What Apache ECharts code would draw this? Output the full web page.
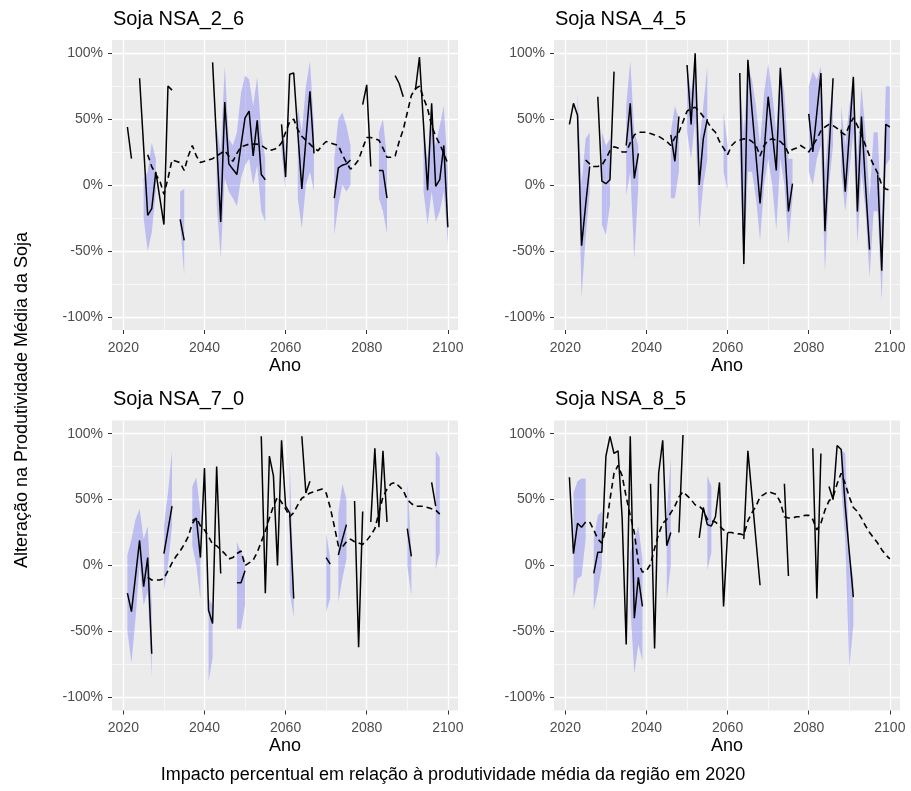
<!DOCTYPE html>
<html>
<head>
<meta charset="utf-8">
<script src="https://cdn.jsdelivr.net/npm/echarts@6/dist/echarts.min.js"></script>
<style>html,body{margin:0;padding:0;background:#fff;}#c{width:911px;height:791px;}</style>
</head>
<body>
<div id="c"></div>
<script>
const years = [2021,2022,2023,2024,2025,2026,2027,2028,2029,2030,
2031,2032,2033,2034,2035,2036,2037,2038,2039,2040,
2041,2042,2043,2044,2045,2046,2047,2048,2049,2050,
2051,2052,2053,2054,2055,2056,2057,2058,2059,2060,
2061,2062,2063,2064,2065,2066,2067,2068,2069,2070,
2071,2072,2073,2074,2075,2076,2077,2078,2079,2080,
2081,2082,2083,2084,2085,2086,2087,2088,2089,2090,
2091,2092,2093,2094,2095,2096,2097,2098,2099,2100];

const panelTitles = ['Soja NSA_2_6','Soja NSA_4_5','Soja NSA_7_0','Soja NSA_8_5'];
const xTicks = [2020,2040,2060,2080,2100];
const xMinor = [2030,2050,2070,2090];
const yTicks = [-100,-50,0,50,100];
const yMinor = [-75,-25,25,75];

// ---- Soja NSA_2_6
const s1 = [44,20,null,81,29,-23,-18,10,-10,-30,
75,72,null,-26,-42,null,null,null,null,null,
null,93,32,-28,63,16,12,8,30,51,
56,22,49,8,4,null,null,null,46,6,
84,85,40,-3,34,71,24,null,null,null,
null,-10,13,15,16,19,null,null,61,76,
14,null,11,11,-10,null,83,77,67,null,
null,72,97,46,-4,62,-1,4,30,-32];
const t1 = [null,null,null,null,null,23,14,8,3,-7,
5,19,18,17,11,22,30,22,17,18,
19,20,22,24,26,22,18,24,29,30,
31,31,31,30,28,26,27,28,32,40,
48,50,42,37,34,31,28,26,30,33,
32,31,30,23,17,12,15,19,28,36,
36,35,34,28,21,21,22,33,42,55,
68,73,75,66,58,45,37,31,24,16];
const lo1 = [null,null,null,null,-25,-50,-36,-5,null,null,
null,null,null,-30,-68,null,null,null,null,null,
null,null,-15,-55,5,-5,-10,-16,5,15,
20,0,15,-20,-28,null,null,null,25,-5,
null,null,-10,-33,0,10,-5,null,null,null,
null,-38,-15,0,-5,0,null,null,null,null,
null,null,-10,-20,-37,null,null,null,null,null,
null,null,null,-5,-30,-5,-28,-20,-5,-45];
const hi1 = [null,null,null,null,5,10,32,20,null,null,
null,null,null,-5,-3,null,null,null,null,null,
null,null,45,25,90,35,30,40,70,83,
80,60,82,40,20,null,null,null,46,30,
null,null,60,40,75,94,45,null,null,null,
null,20,50,55,45,30,null,null,null,null,
null,null,40,50,20,null,null,null,null,null,
null,null,null,40,20,55,30,45,60,10];

// ---- Soja NSA_4_5
const s2 = [46,62,53,-46,-15,14,null,67,3,1,
4,86,null,null,30,62,5,24,null,null,
null,null,null,null,null,38,18,52,null,91,
46,100,0,35,50,null,null,null,null,null,
null,null,85,-60,95,57,22,-14,25,67,
40,11,89,35,-20,1,null,null,null,54,
25,55,85,-35,25,81,null,42,-5,38,
82,-20,52,0,-49,null,8,-65,46,44];
const t2 = [null,null,null,null,19,16,14,14,15,20,
26,29,28,25,25,32,38,40,40,40,
39,38,37,35,33,30,36,40,48,56,
58,59,56,52,48,43,40,33,28,23,
30,33,34,35,35,33,30,22,30,34,
35,34,33,30,24,27,28,30,28,25,
30,35,41,44,46,45,43,40,38,45,
51,45,38,30,22,15,9,0,-3,-4];
const lo2 = [null,null,40,-85,-40,-5,null,null,-30,-38,
-15,null,null,null,-8,10,-56,0,null,null,
null,null,null,null,null,-10,-10,10,null,40,
20,50,-33,0,20,null,null,null,10,-5,
null,null,20,-65,10,10,-10,-42,0,20,
0,-34,20,0,-45,-10,null,null,null,10,
0,20,30,-66,0,30,null,10,-20,10,
40,-45,10,-20,-70,-20,-20,-88,15,20];
const hi2 = [null,null,70,0,35,40,null,null,40,30,
35,null,null,null,60,94,40,30,null,null,
null,null,null,null,null,40,60,50,null,91,
70,95,30,60,90,null,null,null,55,30,
null,null,80,40,90,80,60,30,70,92,
70,40,90,70,20,20,null,null,null,75,
86,80,90,10,50,80,null,60,30,60,
84,20,75,40,-10,40,40,-30,75,75];

// ---- Soja NSA_7_0
const s3 = [-21,-35,-8,19,-16,6,-67,null,null,9,
27,45,null,null,null,null,34,36,6,74,
-34,-44,75,-6,null,null,null,-13,-13,-4,
null,null,null,98,-21,83,68,0,95,45,
40,-25,null,98,55,64,null,null,null,6,
1,null,8,20,31,null,49,-62,41,null,
33,89,29,87,33,null,null,null,null,28,
7,null,null,null,null,63,45,null,null,null];
const t3 = [null,null,null,null,null,-9,-11,-11,-11,-10,
-4,2,7,11,16,22,32,36,30,27,
22,16,15,12,9,5,6,9,11,0,
2,4,10,18,26,36,45,52,48,43,
37,40,46,51,53,55,56,57,58,55,
44,30,15,14,18,20,18,17,16,19,
23,28,40,52,58,62,63,60,57,50,
47,45,45,45,44,43,42,39,null,null];
const lo3 = [-50,-74,-40,0,-30,-20,-85,null,null,-19,
0,30,null,null,null,null,15,0,-26,null,
-88,-70,null,null,null,null,null,-48,-48,-30,
null,null,null,null,null,null,null,null,null,null,
-20,-39,null,null,null,null,null,null,null,-35,
-25,null,-28,-10,5,null,null,null,null,null,
null,null,null,null,null,null,null,null,null,0,
-23,null,null,null,null,null,-3,10,null,null];
const hi3 = [8,20,35,43,20,30,-30,null,null,30,
55,87,null,null,null,null,60,67,40,null,
-25,-30,null,null,null,null,null,18,10,5,
null,null,null,null,null,null,null,null,null,null,
79,-15,null,null,null,null,null,null,null,25,
5,null,40,62,50,null,null,null,null,null,
null,null,null,null,null,null,null,null,null,66,
10,null,null,null,null,null,87,82,null,null];

// ---- Soja NSA_8_5
const s4 = [67,9,32,29,33,null,-6,10,10,83,
98,85,87,36,-60,98,-40,-9,-31,null,
62,-63,70,95,15,25,null,25,99,null,
null,null,21,44,31,30,37,63,-31,25,
null,null,null,20,87,53,19,-15,null,null,
null,null,null,62,-8,null,null,null,null,null,
89,-25,85,null,60,50,91,88,45,10,
-24,null,null,null,null,null,null,null,null,null];
const t4 = [null,null,null,null,null,33,27,20,17,28,
50,70,76,68,52,38,25,2,-5,-4,
1,13,24,32,35,40,45,52,56,53,
50,46,45,42,35,34,33,30,27,25,
25,24,24,23,34,40,45,52,54,56,
55,54,48,37,36,36,37,37,38,38,
35,27,32,42,49,52,62,70,62,52,
44,41,36,30,25,21,17,12,8,5];
const lo4 = [null,-25,-10,-8,20,null,-34,-20,0,null,
null,null,null,null,null,-30,-82,-60,-72,null,
null,null,null,null,-26,0,null,null,null,null,
null,null,null,null,-4,10,null,null,null,null,
null,null,null,null,null,null,null,null,null,null,
null,null,null,null,null,null,null,null,null,null,
null,null,null,null,null,null,null,60,20,-78,
-45,null,null,null,null,null,null,null,null,null];
const hi4 = [null,55,64,66,66,null,20,38,41,null,
null,null,null,null,null,10,20,30,5,null,
null,null,null,null,40,82,null,null,null,null,
null,null,null,null,68,60,null,null,null,null,
null,null,null,null,null,null,null,null,null,null,
null,null,null,null,null,null,null,null,null,null,
null,null,null,null,null,null,null,88,85,10,
-10,null,null,null,null,null,null,null,null,null];

const panels = [
  {solid:s1, trend:t1, lo:lo1, hi:hi1},
  {solid:s2, trend:t2, lo:lo2, hi:hi2},
  {solid:s3, trend:t3, lo:lo3, hi:hi3},
  {solid:s4, trend:t4, lo:lo4, hi:hi4}
];

const FONT = "'Liberation Sans', Arial, sans-serif";
const gridPos = [
  {left:112, top:40}, {left:554, top:40},
  {left:112, top:420.5}, {left:554, top:420.5}
];
const W = 346, H = 290;
const XMIN = 2017.2, XMAX = 2102.5, YMIN = -110, YMAX = 110;

const grids = gridPos.map(g => ({left:g.left, top:g.top, width:W, height:H,
  show:true, backgroundColor:'#EBEBEB', borderWidth:0, containLabel:false}));

const xAxes = [], yAxes = [];
for (let p = 0; p < 4; p++) {
  xAxes.push({type:'value', gridIndex:p, min:XMIN, max:XMAX, position:'bottom',
    name:'Ano', nameLocation:'middle', nameGap:27,
    nameTextStyle:{fontSize:18, color:'#000', fontFamily:FONT},
    axisLine:{show:false, onZero:false},
    axisTick:{show:true, length:4, lineStyle:{color:'#333333', width:1}, customValues:xTicks},
    axisLabel:{customValues:xTicks, margin:11, fontSize:14, color:'#4D4D4D', fontFamily:FONT,
      formatter: v => String(Math.round(v))},
    splitLine:{show:true, lineStyle:{color:'#FFFFFF', width:1.3}}
  });
  yAxes.push({type:'value', gridIndex:p, min:YMIN, max:YMAX, position:'left',
    axisLine:{show:false, onZero:false},
    axisTick:{show:true, length:4, lineStyle:{color:'#333333', width:1}, customValues:yTicks},
    axisLabel:{customValues:yTicks, margin:9, fontSize:14, color:'#4D4D4D', fontFamily:FONT,
      formatter: v => Math.round(v) + '%'},
    splitLine:{show:true, lineStyle:{color:'#FFFFFF', width:1.3}}
  });
}
for (let p = 0; p < 4; p++) {
  xAxes.push({type:'value', gridIndex:p, min:XMIN, max:XMAX, position:'top',
    axisLine:{show:false, onZero:false}, axisTick:{show:false, customValues:xMinor},
    axisLabel:{show:false}, splitLine:{show:true, lineStyle:{color:'#FFFFFF', width:0.6}}});
  yAxes.push({type:'value', gridIndex:p, min:YMIN, max:YMAX, position:'right',
    axisLine:{show:false, onZero:false}, axisTick:{show:false, customValues:yMinor},
    axisLabel:{show:false}, splitLine:{show:true, lineStyle:{color:'#FFFFFF', width:0.6}}});
}

// contiguous runs (>= 2 years) where both band limits exist
function bandRuns(lo, hi) {
  const runs = [];
  let start = -1;
  for (let k = 0; k <= years.length; k++) {
    const ok = k < years.length && lo[k] != null && hi[k] != null;
    if (ok && start < 0) start = k;
    if (!ok && start >= 0) { if (k - 1 > start) runs.push([start, k - 1]); start = -1; }
  }
  return runs;
}

const series = [];
panels.forEach((d, p) => {
  const runs = bandRuns(d.lo, d.hi);
  series.push({type:'custom', xAxisIndex:p, yAxisIndex:p, silent:true, z:2,
    data: runs.map(r => [years[r[0]], d.lo[r[0]], r[0], r[1]]),
    encode:{x:0, y:1},
    renderItem: (params, api) => {
      const r = runs[params.dataIndex];
      const pts = [];
      for (let k = r[0]; k <= r[1]; k++) pts.push(api.coord([years[k], d.lo[k]]));
      for (let k = r[1]; k >= r[0]; k--) pts.push(api.coord([years[k], d.hi[k]]));
      return {type:'polygon', shape:{points:pts}, style:{fill:'rgba(0,0,255,0.2)'}};
    }
  });
  series.push({type:'line', xAxisIndex:p, yAxisIndex:p,
    data: years.map((y,k) => [y, d.trend[k]]), symbol:'none', showSymbol:false, silent:true,
    lineStyle:{color:'#000', width:1.6, type:[6,4]}, z:3});
  series.push({type:'line', xAxisIndex:p, yAxisIndex:p,
    data: years.map((y,k) => [y, d.solid[k]]), symbol:'none', showSymbol:false, silent:true,
    lineStyle:{color:'#000', width:1.5}, z:4});
});

const titles = panelTitles.map((t,p) => ({text:t, left:gridPos[p].left + 1, top: p < 2 ? 9 : 389.5, padding:0,
  textStyle:{fontSize:20, fontWeight:'normal', color:'#000', fontFamily:FONT}}));

const chart = echarts.init(document.getElementById('c'), null, {renderer:'canvas'});
chart.setOption({
  animation:false,
  backgroundColor:'#FFFFFF',
  title: titles,
  grid: grids,
  xAxis: xAxes,
  yAxis: yAxes,
  series: series,
  graphic: [
    {type:'text', x:22, y:400, rotation:Math.PI/2,
      style:{text:'Alteração na Produtividade Média da Soja', fill:'#000', fontSize:18, fontFamily:FONT,
        align:'center', verticalAlign:'middle', textAlign:'center', textVerticalAlign:'middle'}},
    {type:'text', x:453, y:775,
      style:{text:'Impacto percentual em relação à produtividade média da região em 2020', fill:'#000', fontSize:18, fontFamily:FONT,
        align:'center', verticalAlign:'middle', textAlign:'center', textVerticalAlign:'middle'}}
  ]
});
</script>
</body>
</html>
